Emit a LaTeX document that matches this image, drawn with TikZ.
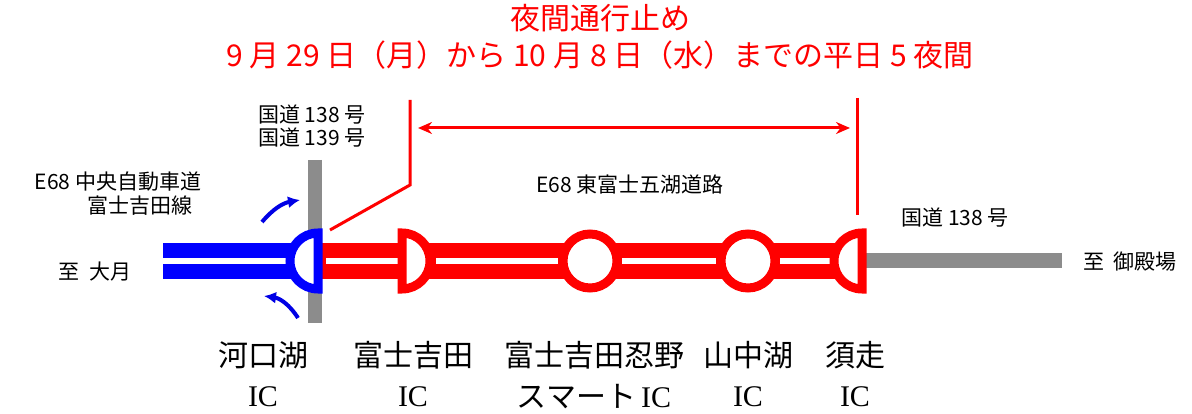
\documentclass[tikz,border=0pt]{standalone}
\usepackage{fontspec}
\setmainfont{Noto Sans CJK JP}
\newfontfamily\icfont{Liberation Serif}
\usetikzlibrary{arrows.meta, positioning}
\tikzset{
        road/.style={line width=36pt},
        stripe/.style={white, line width=6pt},
        icring/.style={line width=9pt, fill=white},
        label/.style={font=\fontsize{21}{24}\selectfont, inner sep=0pt},
        icname/.style={font=\fontsize{30}{34}\selectfont, inner sep=0pt},
        ictag/.style={font=\icfont\fontsize{30}{34}\selectfont, inner sep=0pt},
        arrow/.style={-{Latex[length=12pt,width=12pt]}, blue!90!black, line width=4pt},
        bigarrow/.style={{Stealth[length=14pt,width=12pt]}-{Stealth[length=14pt,width=12pt]}, red, line width=3pt},
    }
\begin{document}
\begin{tikzpicture}[x=1pt, y=-1pt]
        \useasboundingbox (0,0) rectangle (1192,414);
        % Interchange positions
        \coordinate (otsuki) at (163,261);
        \coordinate (kawaguchiko) at (318,261);
        \coordinate (fujiyoshida) at (402,261);
        \coordinate (oshino) at (590,261);
        \coordinate (yamanakako) at (748,261);
        \coordinate (subashiri) at (862,261);
        \coordinate (gotemba) at (1062,261);

        % Roads
        \draw[gray!90, line width=15pt] (subashiri) -- (gotemba);
        \draw[gray!90, line width=14pt] (315,160) -- (315,323);
        \draw[road, blue] (otsuki) -- (kawaguchiko);
        \draw[stripe] (otsuki) -- ([xshift=-20pt]kawaguchiko);
        \draw[road, red] (kawaguchiko) -- (subashiri);
        \draw[stripe] ([xshift=8pt]kawaguchiko) -- ([xshift=-4pt]fujiyoshida);
        \draw[stripe] ([xshift=34pt]fujiyoshida) -- ([xshift=-32pt]oshino);
        \draw[stripe] ([xshift=32pt]oshino) -- ([xshift=-32pt]yamanakako);
        \draw[stripe] ([xshift=32pt]yamanakako) -- ([xshift=-30pt]subashiri);

        % Interchanges
        \draw[icring, draw=blue] ([yshift=28pt]kawaguchiko) arc[start angle=90, end angle=270, radius=28pt] -- cycle;
        \draw[icring, draw=red] ([yshift=28pt]fujiyoshida) arc[start angle=90, end angle=-90, radius=28pt] -- cycle;
        \draw[icring, draw=red] (oshino) circle[radius=27pt];
        \draw[icring, draw=red] (yamanakako) circle[radius=27pt];
        \draw[icring, draw=red] ([yshift=28pt]subashiri) arc[start angle=90, end angle=270, radius=28pt] -- cycle;

        % Closure markers
        \coordinate (closeA) at (410,100);
        \coordinate (closeB) at (857,98);
        \draw[red, line width=3pt] (closeA) -- (410,185) -- (330,230);
        \draw[red, line width=3pt] (closeB) -- (857,215);
        \draw[bigarrow] (418,128) -- (850,128);

        % Ramps
        \draw[arrow] (262,222) to[bend left=20] (300,200);
        \draw[arrow] (298,318) to[bend right=25] (264,296);

        % Title
        \node[red, font=\fontsize{30}{34}\selectfont] (title) at (600,18) {夜間通行止め};
        \node[red, font=\fontsize{30}{34}\selectfont] (period) at (600,55) {9 月 29 日（月）から 10 月 8 日（水）までの平日 5 夜間};

        % Labels
        \node[label] (r138) at (312,115) {国道 138 号};
        \node[label] (r139) at (312,138) {国道 139 号};
        \node[label] (chuo) at (118,182) {E68 中央自動車道};
        \node[label] (chuob) at (140,206) {富士吉田線};
        \node[label] (higashi) at (630,185) {E68 東富士五湖道路};
        \node[label] (r138b) at (955,218) {国道 138 号};
        \node[label] (toOtsuki) at (95,272) {至\ \ 大月};
        \node[label] (toGotemba) at (1130,262) {至\ \ 御殿場};

        % Interchange names
        \node[icname] (nKawa) at (263,355) {河口湖};
        \node[icname] (nFuji) at (413,355) {富士吉田};
        \node[icname] (nOshi) at (594,355) {富士吉田忍野};
        \node[icname] (nYama) at (748,355) {山中湖};
        \node[icname] (nSuba) at (855,355) {須走};
        \node[ictag] at (263,397) {IC};
        \node[ictag] at (413,397) {IC};
        \node[icname] at (594,397) {スマート\,{\icfont IC}};
        \node[ictag] at (748,397) {IC};
        \node[ictag] at (855,397) {IC};
    \end{tikzpicture}
\end{document}
